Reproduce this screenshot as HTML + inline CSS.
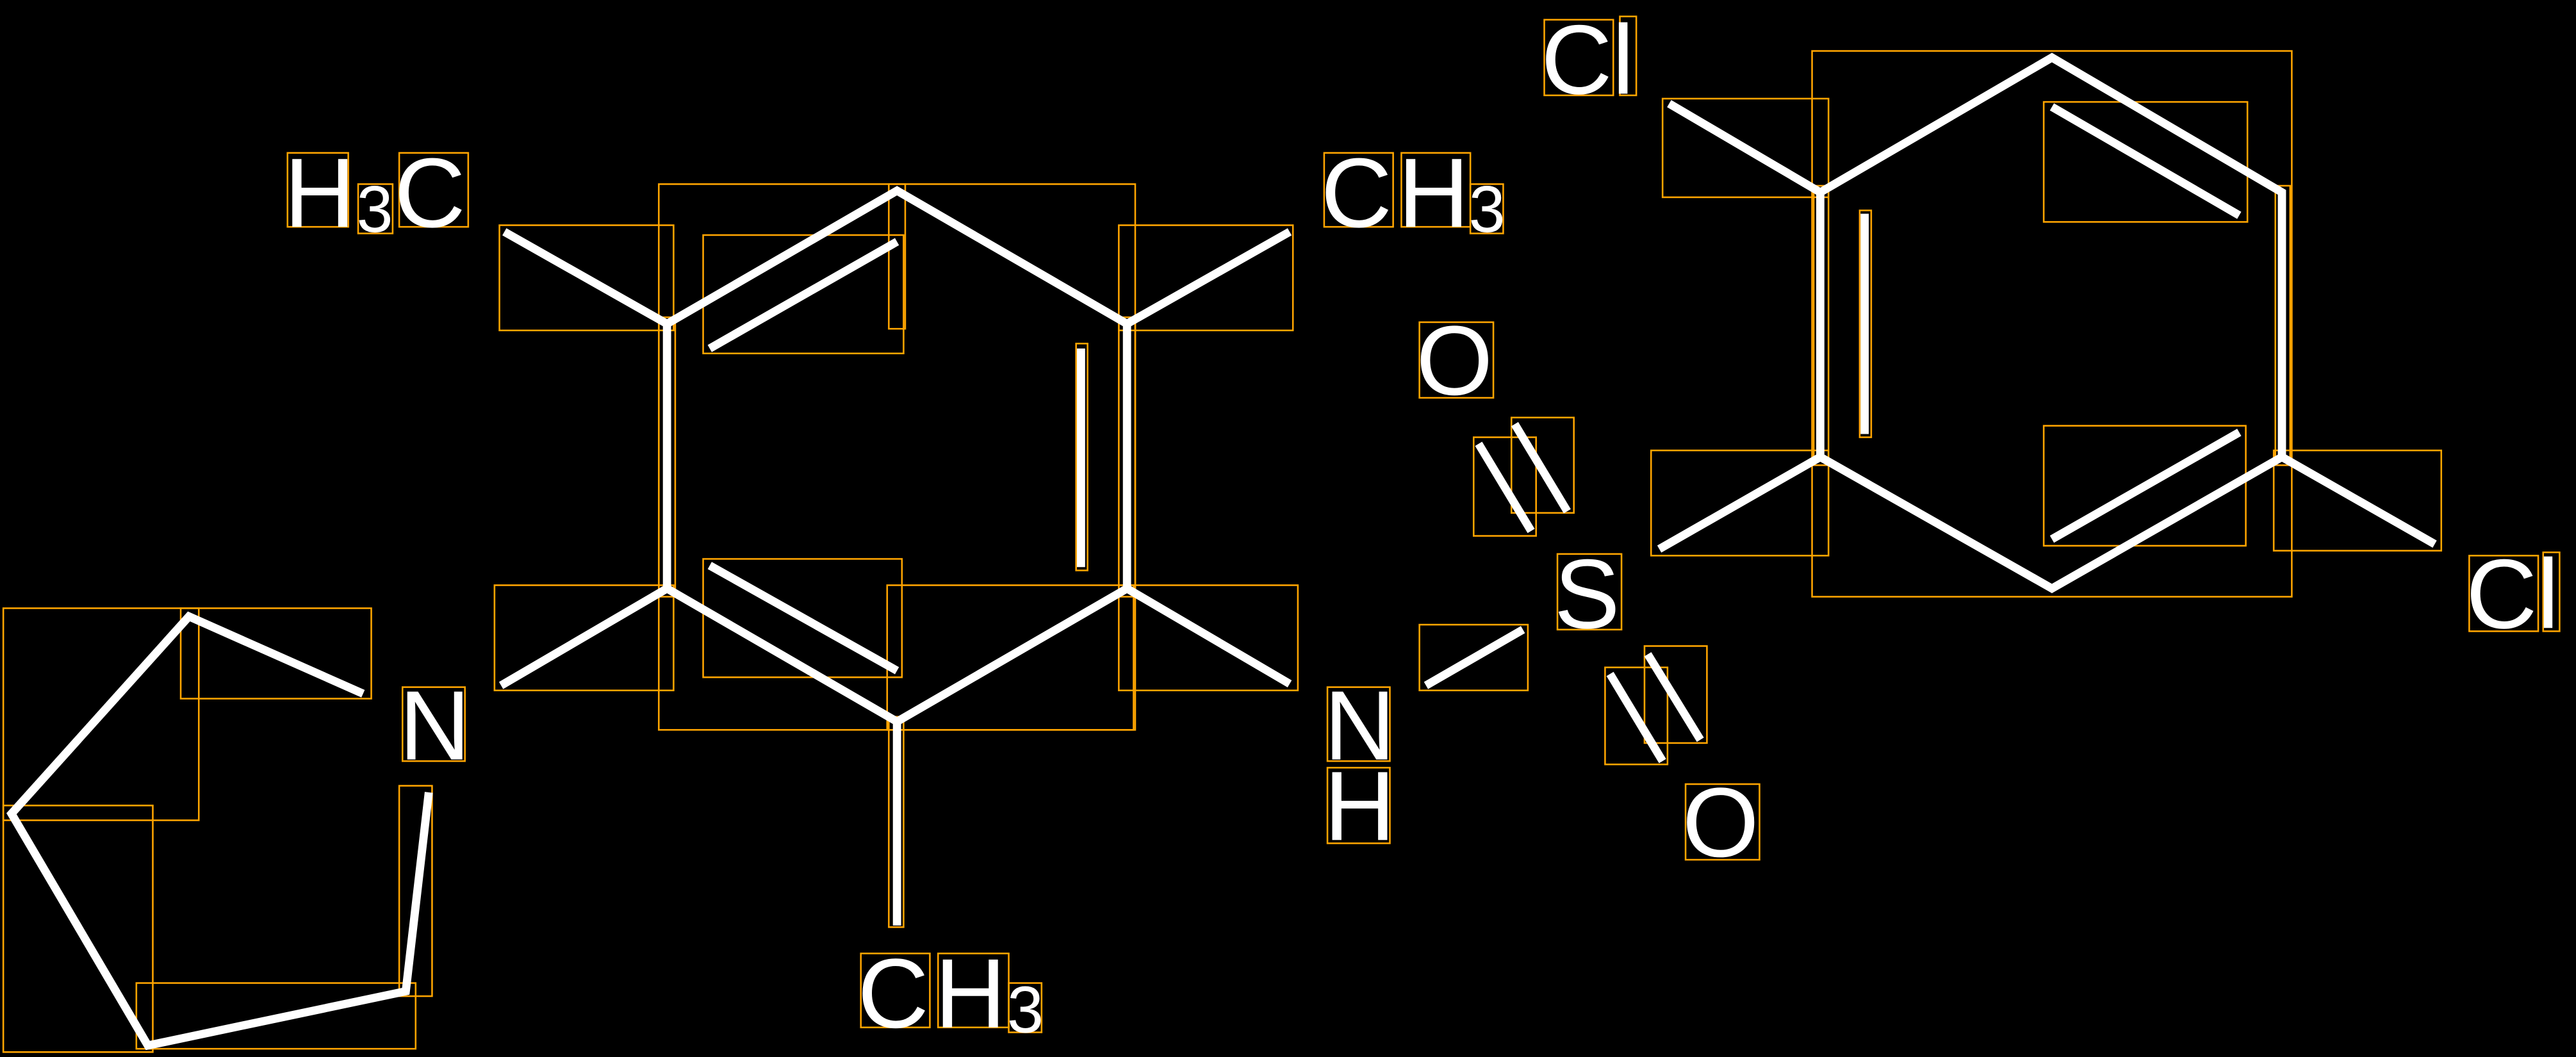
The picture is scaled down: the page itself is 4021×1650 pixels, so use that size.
<!DOCTYPE html>
<html><head><meta charset="utf-8"><style>
html,body{margin:0;padding:0;background:#000;}
svg{display:block;}
text{font-family:"Liberation Sans",sans-serif;fill:#fff;}
</style></head><body>
<svg width="4021" height="1650" viewBox="0 0 1568 643" preserveAspectRatio="none" xmlns="http://www.w3.org/2000/svg">
<rect width="1568" height="643" fill="#000"/>
<g fill="none" stroke="#FFA500" stroke-width="1">
<rect x="401" y="112" width="290" height="332"/>
<rect x="304" y="137" width="106" height="64"/>
<rect x="428" y="143" width="122" height="72"/>
<rect x="541" y="112" width="10" height="88"/>
<rect x="681" y="137" width="106" height="64"/>
<rect x="301" y="356" width="109" height="64"/>
<rect x="428" y="340" width="121" height="72"/>
<rect x="540" y="356" width="150" height="88"/>
<rect x="681" y="356" width="109" height="64"/>
<rect x="401" y="193" width="10" height="170"/>
<rect x="681" y="193" width="10" height="170"/>
<rect x="655" y="209" width="7" height="138"/>
<rect x="541" y="436" width="9" height="128"/>
<rect x="2" y="370" width="119" height="129"/>
<rect x="110" y="370" width="116" height="55"/>
<rect x="2" y="490" width="91" height="150"/>
<rect x="83" y="598" width="170" height="40"/>
<rect x="243" y="478" width="20" height="128"/>
<rect x="1103" y="31" width="292" height="332"/>
<rect x="1012" y="60" width="101" height="60"/>
<rect x="1244" y="62" width="124" height="73"/>
<rect x="1005" y="274" width="108" height="64"/>
<rect x="1244" y="259" width="123" height="73"/>
<rect x="1384" y="274" width="102" height="61"/>
<rect x="1104" y="113" width="9" height="170"/>
<rect x="1385" y="113" width="9" height="170"/>
<rect x="1132" y="128" width="7" height="138"/>
<rect x="864" y="380" width="66" height="40"/>
<rect x="897" y="266" width="38" height="60"/>
<rect x="920" y="254" width="38" height="58"/>
<rect x="977" y="406" width="38" height="59"/>
<rect x="1001" y="393" width="38" height="59"/>
<rect x="175" y="93" width="37" height="45"/>
<rect x="218" y="112" width="21" height="30"/>
<rect x="243" y="93" width="42" height="45"/>
<rect x="806" y="93" width="42" height="45"/>
<rect x="853" y="93" width="42" height="45"/>
<rect x="895" y="112" width="20" height="30"/>
<rect x="524" y="580" width="42" height="45"/>
<rect x="571" y="580" width="43" height="45"/>
<rect x="614" y="598" width="20" height="30"/>
<rect x="864" y="196" width="45" height="46"/>
<rect x="948" y="337" width="39" height="46"/>
<rect x="1026" y="477" width="45" height="46"/>
<rect x="808" y="418" width="38" height="45"/>
<rect x="808" y="467" width="38" height="46"/>
<rect x="245" y="418" width="38" height="45"/>
<rect x="940" y="12" width="42" height="46"/>
<rect x="986" y="10" width="10" height="48"/>
<rect x="1503" y="338" width="42" height="46"/>
<rect x="1548" y="336" width="10" height="48"/>
</g>
<g stroke="#fff" stroke-width="5" fill="none" stroke-linecap="butt" stroke-linejoin="miter">
<polygon points="406,197 546,116 686,197 686,358 546,439 406,358"/>
<line x1="432" y1="212" x2="546" y2="147"/>
<line x1="658" y1="212" x2="658" y2="345"/>
<line x1="432" y1="344" x2="546" y2="408"/>
<line x1="406" y1="197" x2="307" y2="141"/>
<line x1="686" y1="197" x2="785" y2="141"/>
<line x1="406" y1="358" x2="305" y2="417"/>
<line x1="686" y1="358" x2="785" y2="416"/>
<line x1="546" y1="439" x2="546" y2="563"/>
<polygon points="1108,117 1249,35 1389,117 1389,278 1249,358 1108,278"/>
<line x1="1249" y1="65" x2="1363" y2="131"/>
<line x1="1249" y1="328" x2="1363" y2="263"/>
<line x1="1135" y1="130" x2="1135" y2="264"/>
<line x1="1108" y1="117" x2="1016" y2="63"/>
<line x1="1389" y1="278" x2="1482" y2="331"/>
<line x1="1108" y1="278" x2="1010" y2="334"/>
<line x1="900" y1="270" x2="932" y2="323"/>
<line x1="922" y1="258" x2="954" y2="311"/>
<line x1="980" y1="410" x2="1012" y2="463"/>
<line x1="1003" y1="398" x2="1035" y2="450"/>
<line x1="868" y1="417" x2="927" y2="383"/>
<polyline points="221,422 115,375 7,495 90,636 247,603 261,482"/>
</g>
<g font-size="60">
<text x="173" y="138">H</text>
<text x="217" y="141" font-size="40">3</text>
<text x="240" y="138">C</text>
<text x="804" y="138">C</text>
<text x="851" y="138">H</text>
<text x="894" y="141" font-size="40">3</text>
<text x="522" y="625">C</text>
<text x="569" y="625">H</text>
<text x="613" y="628" font-size="40">3</text>
<text x="862" y="240">O</text>
<text x="946" y="382">S</text>
<text x="1024" y="521">O</text>
<text x="806" y="462">N</text>
<text x="806" y="511">H</text>
<text x="243" y="462">N</text>
<text x="938" y="57">Cl</text>
<text x="1501" y="382">Cl</text>
</g>
</svg>
</body></html>
